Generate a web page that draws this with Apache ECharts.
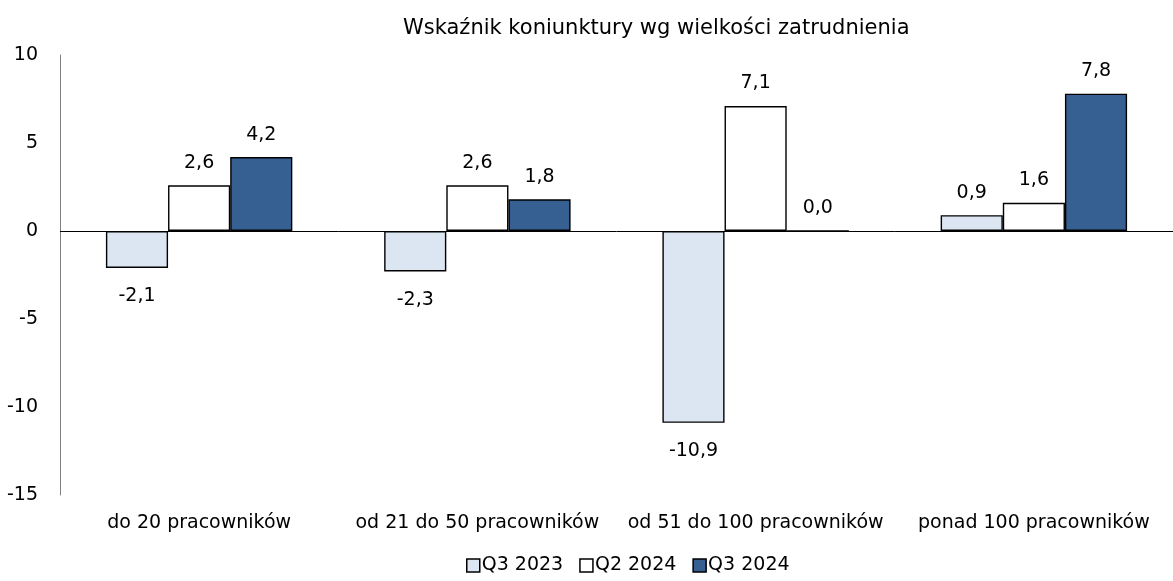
<!DOCTYPE html>
<html>
<head>
<meta charset="utf-8">
<script src="https://cdn.jsdelivr.net/npm/echarts@6/dist/echarts.min.js"></script>
<style>
  html, body { margin: 0; padding: 0; background: #fff; }
  #chart { width: 1173px; height: 581px; }
</style>
</head>
<body>
<div id="chart"></div>
<script>
// dane wykresu
const categories = ['do 20 pracowników', 'od 21 do 50 pracowników', 'od 51 do 100 pracowników', 'ponad 100 pracowników']
const q3_2023 = [-2.1, -2.3, -10.9, 0.9]
const q2_2024 = [2.6, 2.6, 7.1, 1.6]
const q3_2024 = [4.2, 1.8, 0.0, 7.8]
const yTicks = [-15, -10, -5, 0, 5, 10]
const seriesNames = ['Q3 2023', 'Q2 2024', 'Q3 2024']
const seriesColors = ['#dce6f2', '#ffffff', '#376092']

const font = 'DejaVu Sans'
const chart = echarts.init(document.getElementById('chart'))

function fmt(v) {
  return v.toFixed(1).replace('.', ',')
}

function makeSeries(name, data, color, idx) {
  let s = {
    name: name,
    type: 'bar',
    data: data.map(v => ({
      value: v,
      label: { position: v < 0 ? 'bottom' : 'top', distance: v < 0 ? 19 : 13 }
    })),
    barGap: '0%',
    barCategoryGap: '33%',
    itemStyle: { color: color, borderColor: '#000', borderWidth: 1.4 },
    label: {
      show: true,
      fontFamily: font,
      fontSize: 19,
      color: '#000',
      formatter: p => fmt(p.value)
    }
  }
  if (idx === 0) {
    // linia zera
    s.markLine = {
      silent: true,
      symbol: 'none',
      label: { show: false },
      lineStyle: { color: '#000', width: 1, type: 'solid' },
      data: [{ yAxis: 0 }]
    }
  }
  return s
}

const option = {
  backgroundColor: '#fff',
  animation: false,
  title: {
    text: 'Wskaźnik koniunktury wg wielkości zatrudnienia',
    left: 398,
    top: 13,
    textStyle: { fontFamily: font, fontSize: 21, fontWeight: 'normal', color: '#000' }
  },
  legend: {
    bottom: 1,
    left: 461,
    itemWidth: 13,
    itemHeight: 13,
    itemGap: 16,
    icon: 'rect',
    textStyle: { fontFamily: font, fontSize: 19, color: '#000', padding: [0, 0, 0, -3] },
    data: seriesNames.map((n, i) => ({
      name: n,
      itemStyle: { color: seriesColors[i], borderColor: '#000', borderWidth: 1.5 }
    }))
  },
  grid: { left: 60, right: 0, top: 55, bottom: 86, containLabel: false },
  xAxis: {
    type: 'category',
    data: categories,
    axisLine: { show: false, onZero: false },
    axisTick: { show: false },
    axisLabel: { interval: 0, fontFamily: font, fontSize: 19, color: '#000', margin: 19 }
  },
  yAxis: {
    type: 'value',
    min: yTicks[0],
    max: yTicks[yTicks.length - 1],
    interval: 5,
    axisLine: { show: true, lineStyle: { color: '#808080', width: 1 } },
    axisTick: { show: false },
    splitLine: { show: false },
    axisLabel: { fontFamily: font, fontSize: 19, color: '#000', margin: 22 }
  },
  series: [
    makeSeries(seriesNames[0], q3_2023, seriesColors[0], 0),
    makeSeries(seriesNames[1], q2_2024, seriesColors[1], 1),
    makeSeries(seriesNames[2], q3_2024, seriesColors[2], 2)
  ]
}
chart.setOption(option)
</script>
</body>
</html>
